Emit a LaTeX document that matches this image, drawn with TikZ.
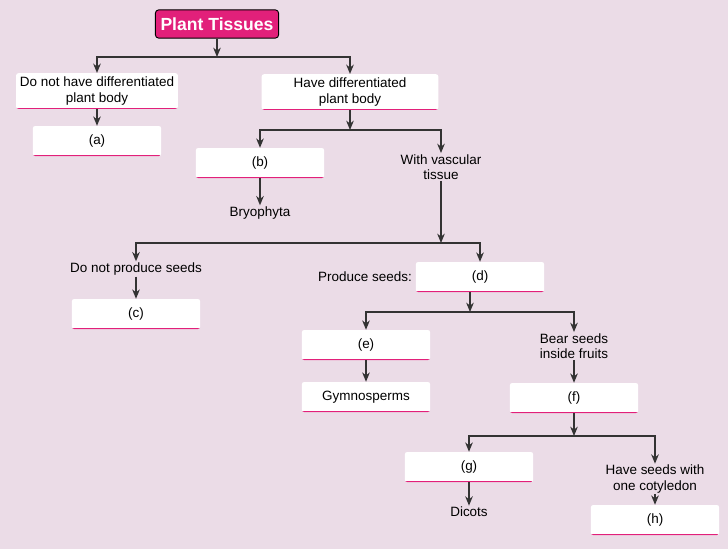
\documentclass[tikz,border=0pt]{standalone}
\usepackage{fontspec}
\setmainfont{Liberation Sans}
\usetikzlibrary{positioning,arrows.meta}
\definecolor{pagebg}{HTML}{EBDCE7}
\definecolor{tissuepink}{HTML}{E2207A}

\begin{document}
\begin{tikzpicture}[x=0.03cm, y=-0.03cm,
    box/.style={fill=white, rounded corners=2pt, minimum width=3.85cm, minimum height=0.9cm,
      align=center, font=\fontsize{11.5}{13}\selectfont,
      path picture={\draw[tissuepink, line width=1.6pt]
        (path picture bounding box.south west) -- (path picture bounding box.south east);}},
    plain/.style={align=center, font=\fontsize{11.5}{13}\selectfont, inner sep=1pt},
    link/.style={draw=black!80, line width=1.2pt},
    arr/.style={link, -{Stealth[length=8pt,width=6.5pt]}}]
  \fill[pagebg] (0,0) rectangle (728,549);
  \useasboundingbox (0,0) rectangle (728,549);

  % top level
  \node[fill=tissuepink, draw=black, line width=0.8pt, rounded corners=3pt, text=white,
    font=\fontsize{15}{17}\selectfont\bfseries, minimum width=3.7cm, minimum height=0.85cm]
    (title) at (217,24) {Plant Tissues};
  \node[box, minimum width=4.85cm, minimum height=1.05cm] (nodiff) at (97,91)
    {Do not have differentiated\\plant body};
  \node[box, minimum width=5.3cm, minimum height=1cm] (diff) at (350,92)
    {Have differentiated\\plant body};
  \node[box] (a) at (97,141) {(a)};
  \node[box] (b) at (260,163) {(b)};
  \node[plain] (vasc) at (441,167) {With vascular\\tissue};
  \node[plain] (bryo) at (260,213) {Bryophyta};

  % seeds
  \node[plain] (noseed) at (136,269) {Do not produce seeds};
  \node[box] (c) at (136,314) {(c)};
  \node[box] (d) at (480,277) {(d)};
  \node[plain, left=2pt of d] (seeds) {Produce seeds:};
  \node[box] (e) at (366,345) {(e)};
  \node[box] (gymno) at (366,397) {Gymnosperms};
  \node[plain] (fruit) at (574,346) {Bear seeds\\inside fruits};
  \node[box] (f) at (574,398) {(f)};
  \node[box] (g) at (469,467) {(g)};
  \node[plain] (dicot) at (469,512) {Dicots};
  \node[plain] (mono) at (655,479) {Have seeds with\\one cotyledon};
  \node[box] (h) at (655,520) {(h)};

  \coordinate (j1) at (217,57);
  \coordinate (j2) at (350,130);
  \coordinate (j3) at (441,243);
  \coordinate (j4) at (470,312);
  \coordinate (j5) at (574,436);

  \draw[arr] (title) -- (j1);
  \draw[arr] (j1) -| (nodiff.north);
  \draw[arr] (j1) -| (diff.north);
  \draw[arr] (nodiff) -- (a);
  \draw[arr] (diff) -- (j2);
  \draw[arr] (j2) -| (b.north);
  \draw[arr] (j2) -| (vasc.north);
  \draw[arr] (b) -- (bryo);
  \draw[arr] (vasc) -- (j3);
  \draw[arr] (j3) -| (noseed.north);
  \draw[arr] (j3) -| (d.north);
  \draw[arr] (noseed) -- (c);
  \draw[arr] (d.south -| j4) -- (j4);
  \draw[arr] (j4) -| (e.north);
  \draw[arr] (j4) -| (fruit.north);
  \draw[arr] (e) -- (gymno);
  \draw[arr] (fruit) -- (f);
  \draw[arr] (f) -- (j5);
  \draw[arr] (j5) -| (g.north);
  \draw[arr] (j5) -| (mono.north);
  \draw[arr] (g) -- (dicot);
  \draw[arr] (mono) -- (h);
\end{tikzpicture}
\end{document}
